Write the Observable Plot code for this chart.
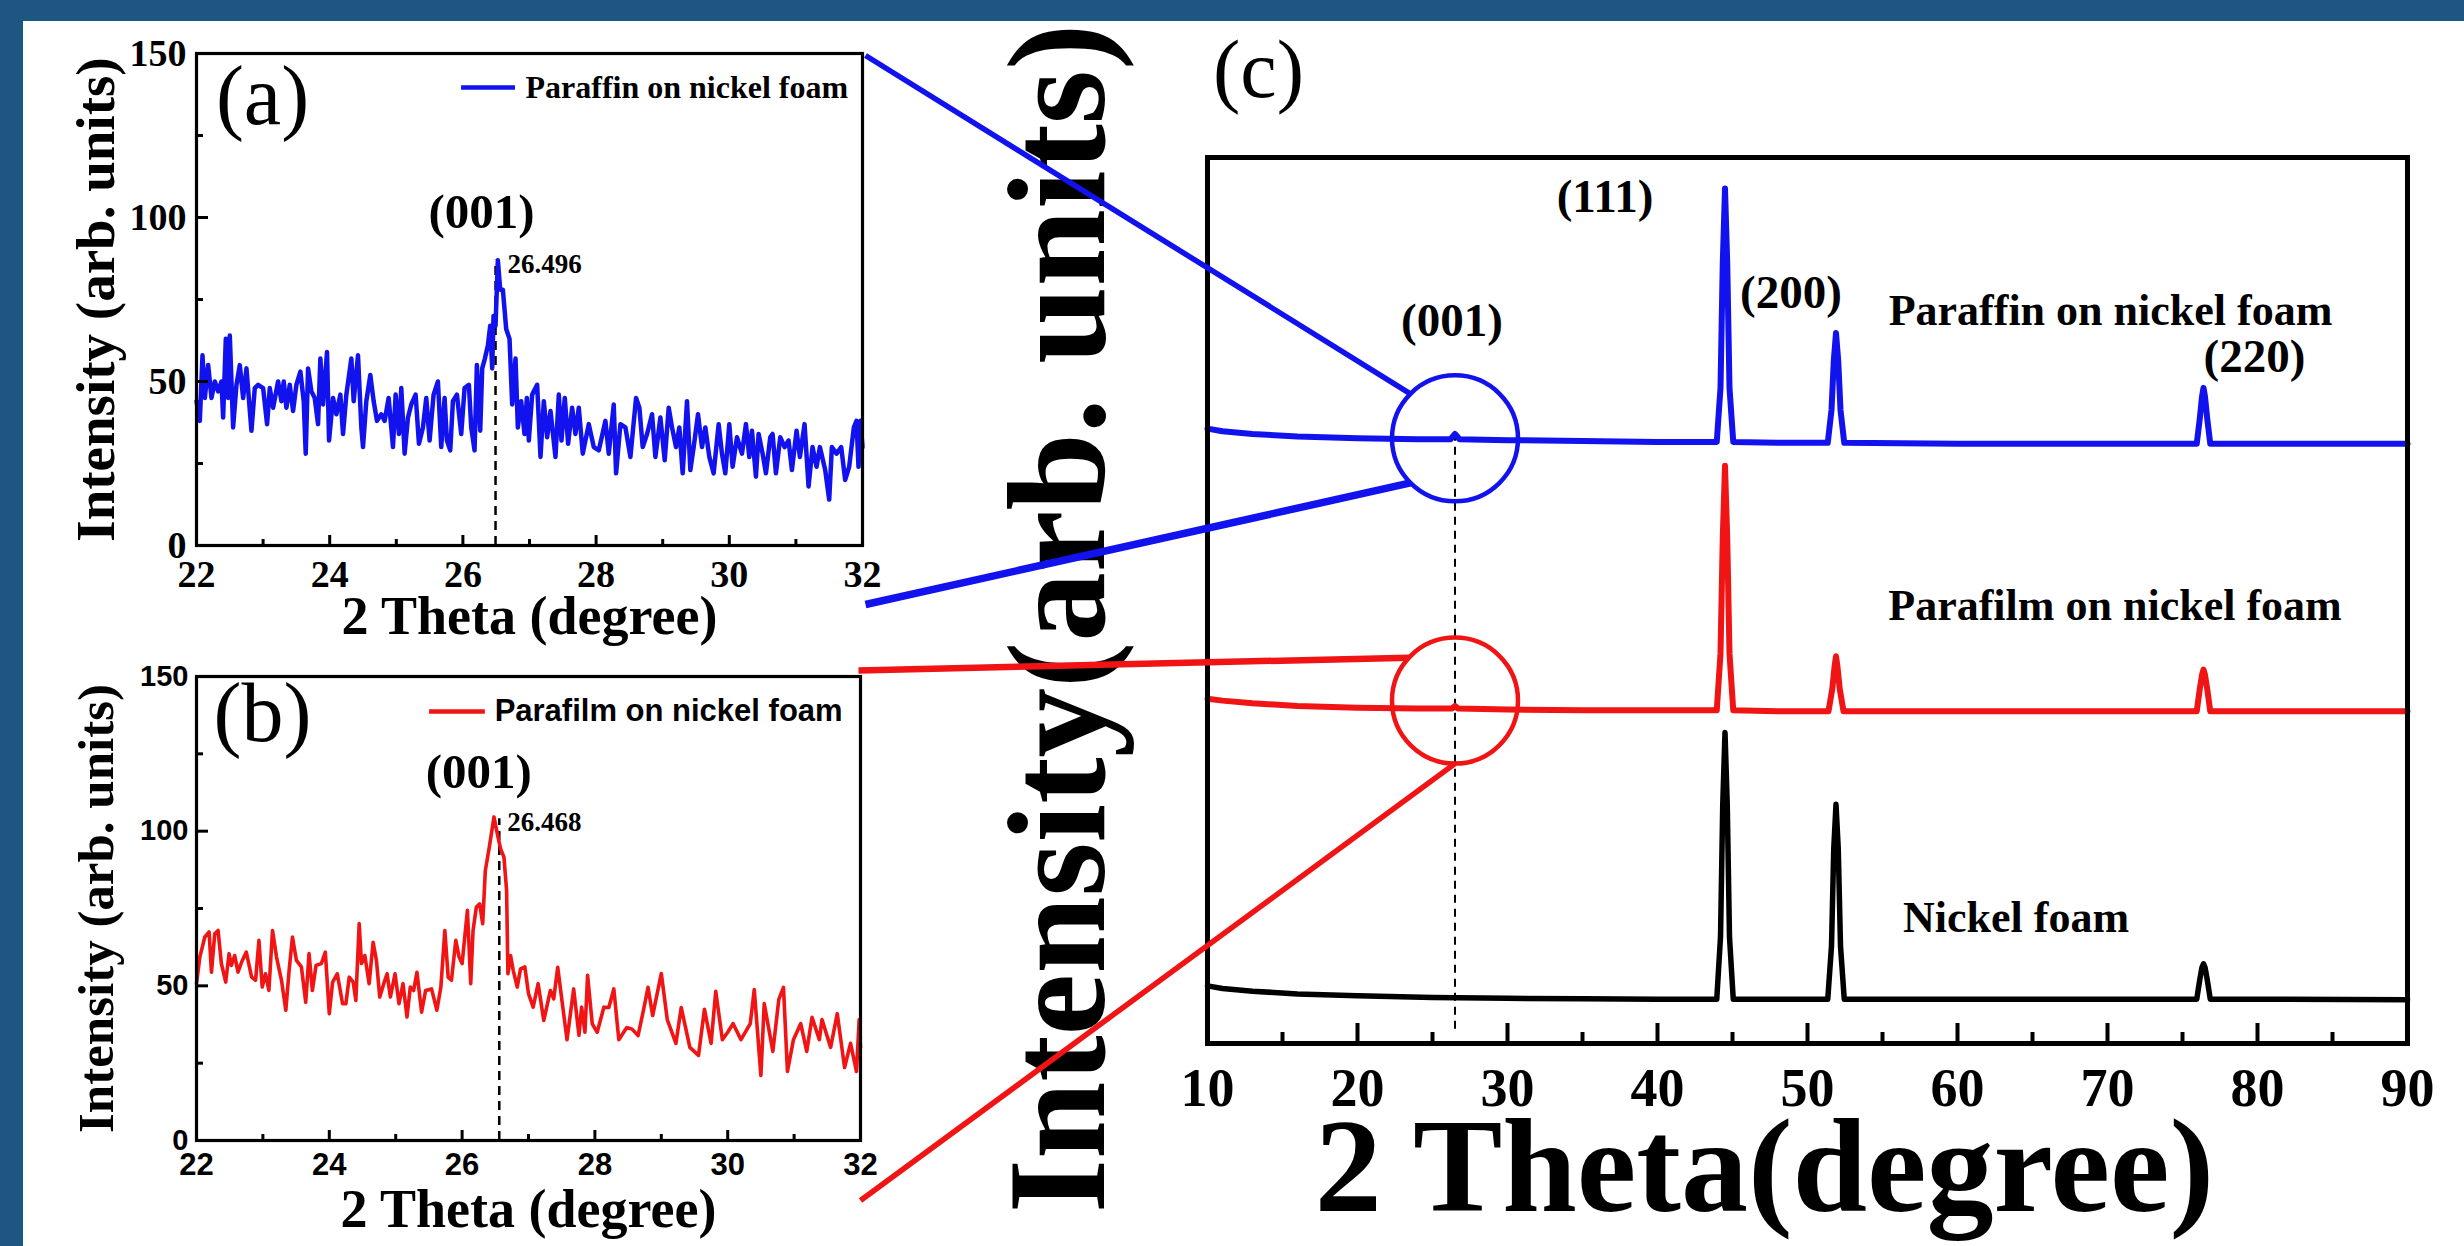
<!DOCTYPE html>
<html><head><meta charset="utf-8">
<script src="https://cdn.jsdelivr.net/npm/d3@7"></script>
<script src="https://cdn.jsdelivr.net/npm/@observablehq/plot@0.6"></script>
<style>
html,body{margin:0;padding:0;background:#fff;}
#page{position:relative;width:2464px;height:1246px;background:#fff;overflow:hidden;}
.band-top{position:absolute;left:0;top:0;width:2464px;height:21px;background:#1e5682;}
.band-left{position:absolute;left:0;top:0;width:23px;height:1246px;background:#1e5682;}
.panel{position:absolute;}
</style></head>
<body><div id="page"><div class="band-top"></div><div class="band-left"></div></div>
<script>
// ---------------- DATA ----------------
// (a) zoom: paraffin on nickel foam, 2θ (deg) vs intensity (arb. units)
const paraffinZoom = [[22.00,44],[22.05,38],[22.09,58],[22.125,45],[22.175,55],[22.225,45],[22.275,50],[22.325,47],[22.375,50],[22.40,39],[22.44,63],[22.475,45],[22.50,64],[22.55,36],[22.60,49],[22.65,55],[22.70,45],[22.75,54],[22.825,35],[22.875,48],[22.925,49],[23.00,48],[23.06,37],[23.10,48],[23.15,42],[23.225,50],[23.275,44],[23.31,50],[23.35,42],[23.40,49],[23.45,41],[23.50,49],[23.56,53],[23.61,44],[23.64,28],[23.675,54],[23.725,47],[23.775,45],[23.825,37],[23.86,57],[23.90,43],[23.96,59],[23.99,32],[24.05,45],[24.10,40],[24.16,46],[24.20,34],[24.25,46],[24.325,57],[24.36,44],[24.425,58],[24.475,36],[24.50,30],[24.55,44],[24.61,52],[24.66,44],[24.71,38],[24.775,40],[24.825,38],[24.885,45],[24.95,30],[24.99,46],[25.04,34],[25.075,48],[25.125,28],[25.175,39],[25.225,43],[25.29,46],[25.34,31],[25.40,36],[25.45,45],[25.50,32],[25.56,46],[25.625,50],[25.675,30],[25.725,45],[25.76,32],[25.81,29],[25.85,44],[25.91,46],[25.975,34],[26.025,48],[26.09,49],[26.125,36],[26.175,29],[26.21,55],[26.26,35],[26.29,54],[26.33,57],[26.375,61],[26.41,67],[26.44,54],[26.46,70],[26.49,67],[26.525,87],[26.56,78],[26.60,78],[26.65,66],[26.70,63],[26.74,43],[26.79,57],[26.825,36],[26.875,44],[26.925,34],[26.96,45],[26.99,32],[27.04,46],[27.115,49],[27.165,27],[27.215,44],[27.265,33],[27.315,41],[27.39,27],[27.44,46],[27.48,32],[27.53,45],[27.58,31],[27.64,42],[27.69,34],[27.74,42],[27.80,28],[27.89,37],[27.965,30],[28.04,29],[28.14,38],[28.19,28],[28.265,43],[28.30,22],[28.365,37],[28.44,36],[28.515,27],[28.60,45],[28.65,42],[28.70,30],[28.765,34],[28.84,40],[28.89,27],[28.965,39],[29.03,26],[29.09,42],[29.14,36],[29.20,30],[29.25,36],[29.30,22],[29.365,44],[29.415,23],[29.465,30],[29.53,40],[29.59,30],[29.64,36],[29.70,27],[29.765,22],[29.84,37],[29.89,28],[29.94,22],[30.00,37],[30.05,24],[30.115,33],[30.19,28],[30.25,37],[30.30,27],[30.34,35],[30.40,21],[30.44,34],[30.50,28],[30.55,22],[30.615,33],[30.65,34],[30.70,22],[30.765,33],[30.83,30],[30.89,32],[30.94,23],[31.01,35],[31.06,27],[31.13,37],[31.19,18],[31.25,30],[31.31,24],[31.36,30],[31.44,23],[31.50,14],[31.54,30],[31.61,28],[31.68,30],[31.74,20],[31.80,24],[31.87,36],[31.91,38],[31.94,24],[31.97,38],[32.00,30]];

// (b) zoom: parafilm on nickel foam
const parafilmZoom = [[22.0,50.7],[22.05,59.3],[22.125,65.8],[22.19,67.4],[22.225,54.4],[22.275,66.8],[22.325,67.9],[22.375,57.2],[22.44,51.2],[22.49,60.4],[22.525,56.6],[22.575,59.8],[22.625,54.4],[22.68,57.7],[22.75,60.9],[22.83,52.8],[22.89,51.8],[22.94,64.7],[22.99,49.6],[23.04,53.9],[23.09,48.5],[23.145,67.9],[23.205,59.3],[23.28,51.8],[23.345,42.1],[23.395,55.0],[23.445,65.8],[23.505,58.2],[23.58,56.1],[23.645,44.7],[23.695,60.4],[23.745,48.5],[23.80,56.6],[23.88,57.2],[23.94,60.9],[24.0,41.0],[24.05,51.2],[24.12,53.9],[24.2,44.2],[24.25,44.2],[24.3,52.8],[24.36,51.2],[24.4,45.3],[24.45,70.1],[24.485,57.2],[24.535,59.8],[24.6,50.7],[24.66,64.1],[24.71,58.2],[24.76,46.4],[24.82,50.7],[24.87,53.9],[24.92,46.4],[24.99,53.9],[25.05,44.2],[25.11,50.7],[25.17,39.9],[25.22,49.6],[25.27,48.5],[25.32,54.4],[25.39,41.5],[25.45,48.5],[25.54,49.0],[25.62,42.1],[25.68,49.6],[25.74,67.9],[25.79,52.8],[25.84,51.8],[25.905,64.7],[25.955,59.3],[26.0,57.2],[26.04,65.8],[26.08,74.4],[26.13,50.7],[26.165,67.9],[26.215,75.5],[26.265,76.5],[26.31,70.1],[26.35,87.3],[26.41,94.9],[26.48,104.6],[26.53,99.2],[26.58,94.3],[26.63,91.6],[26.67,80.9],[26.69,53.9],[26.73,59.8],[26.77,55.0],[26.83,49.6],[26.88,55.5],[26.945,56.1],[27.0,47.5],[27.07,43.1],[27.145,50.7],[27.23,38.8],[27.33,48.5],[27.38,45.8],[27.44,56.0],[27.51,44.2],[27.58,32.6],[27.68,49.0],[27.76,34.0],[27.8,43.1],[27.85,35.0],[27.89,53.4],[27.96,37.7],[28.035,35.0],[28.135,43.1],[28.21,43.0],[28.285,49.0],[28.36,32.6],[28.48,36.5],[28.56,36.0],[28.65,33.9],[28.73,42.0],[28.8,49.5],[28.87,40.4],[29.0,54.0],[29.09,39.1],[29.22,31.4],[29.3,43.0],[29.43,30.1],[29.56,27.5],[29.65,42.4],[29.75,31.4],[29.82,48.2],[29.92,32.6],[30.0,35.0],[30.08,37.8],[30.2,32.6],[30.34,37.8],[30.4,48.8],[30.5,21.0],[30.55,44.3],[30.68,28.8],[30.77,45.6],[30.84,49.5],[30.9,22.3],[30.99,32.6],[31.1,37.8],[31.19,28.8],[31.27,39.8],[31.38,32.6],[31.42,39.1],[31.55,30.1],[31.65,41.0],[31.76,23.6],[31.85,31.4],[31.94,22.3],[31.98,39.1],[32.0,30.0]];

// (c) full patterns, stacked (arb. units incl. offsets)
const paraffinFull = [[10,694],[11,691],[13,688],[16,685],[20,683],[24,682],[26.2,682],[26.4,686],[26.5,688],[26.6,686],[26.8,682],[30,681],[35,680],[40,679],[43.95,679],[44.2,740],[44.35,880],[44.5,965],[44.65,880],[44.8,740],[45.05,679],[48,678],[51.35,678],[51.6,715],[51.75,770],[51.9,802],[52.05,770],[52.2,715],[52.45,678],[60,677],[70,677],[75.95,677],[76.15,705],[76.3,730],[76.4,740],[76.5,730],[76.65,705],[76.85,677],[85,677],[90,677]];
const parafilmFull = [[10,389],[11,387],[13,384],[16,381],[20,379],[24,378],[26.3,378],[26.5,381],[26.7,378],[30,377],[35,376],[40,376],[43.95,376],[44.2,440],[44.35,570],[44.5,652],[44.65,570],[44.8,440],[45.05,376],[48,375],[51.4,375],[51.65,400],[51.8,425],[51.9,437],[52.0,425],[52.15,400],[52.4,375],[60,375],[70,375],[75.95,375],[76.15,400],[76.3,416],[76.4,422],[76.5,416],[76.65,400],[76.85,375],[90,375]];
const nickelFull = [[10,65],[11,62],[13,59],[16,56],[20,54],[25,52],[30,51],[35,50.5],[40,50],[43.95,50],[44.2,120],[44.35,270],[44.5,351],[44.65,270],[44.8,120],[45.05,50],[48,50],[51.35,50],[51.6,110],[51.75,220],[51.9,270],[52.05,220],[52.2,110],[52.45,50],[60,50],[70,50],[75.95,50],[76.15,72],[76.3,86],[76.4,90],[76.5,86],[76.65,72],[76.85,50],[90,49.5]];

// tick values
const insetMajorX = [22,24,26,28,30,32];
const insetMinorX = [23,25,27,29,31];
const insetMajorY = [0,50,100,150];
const insetMinorY = [25,75,125];
const fullMajorX = [10,20,30,40,50,60,70,80,90];
const fullMinorX = [15,25,35,45,55,65,75,85];

// annotations
const peakA = {theta: 26.49, top: 87, label: "26.496"};
const peakB = {theta: 26.56, top: 104, label: "26.468"};
const hklLabels = ["(111)","(200)","(001)","(220)"];
const hklTheta  = [36.5, 48.9, 26.3, 79.8];
const hklLevel  = [956, 847, 816, 775];
const sampleNames = ["Paraffin on nickel foam","Parafilm on nickel foam","Nickel foam"];
const sampleTheta = [70.2, 70.5, 63.9];
const sampleLevel = [827, 494, 142];
const zoomTheta = 26.5;
const circleLevels = [683, 387];   // paraffin, parafilm

// ---------------- STYLE ----------------
const SERIF = "'Liberation Serif','Times New Roman',serif";
const SANS = "'Liberation Sans',Arial,sans-serif";
const BLUE = "#1212ee", RED = "#f01414", BLACK = "#000";
const svgStyle = "background:transparent;overflow:visible;max-width:none;";
const page = document.getElementById("page");
function place(el, left, top) {
  const d = document.createElement("div");
  d.className = "panel"; d.style.left = left + "px"; d.style.top = top + "px";
  d.appendChild(el); page.appendChild(d);
}
const pts = arr => arr.map(([t, v]) => ({t, v}));

function insetTicks(xd, yd, iw, ih, sw) {
  const ux = (xd[1]-xd[0])/iw, uy = (yd[1]-yd[0])/ih;
  return [
    Plot.ruleX(insetMajorX, {y1: yd[0], y2: yd[0] + 10*uy, stroke: BLACK, strokeWidth: sw}),
    Plot.ruleX(insetMinorX, {y1: yd[0], y2: yd[0] + 6*uy, stroke: BLACK, strokeWidth: sw}),
    Plot.ruleY(insetMajorY, {x1: xd[0], x2: xd[0] + 12*ux, stroke: BLACK, strokeWidth: sw}),
    Plot.ruleY(insetMinorY, {x1: xd[0], x2: xd[0] + 7*ux, stroke: BLACK, strokeWidth: sw})
  ];
}

// ---------------- PANEL (a) ----------------
const LA = {left: 0, top: 0, width: 960, height: 660, mL: 196, mR: 98, mT: 53, mB: 115};
const plotA = Plot.plot({
  width: LA.width, height: LA.height,
  marginLeft: LA.mL, marginRight: LA.mR, marginTop: LA.mT, marginBottom: LA.mB,
  style: svgStyle,
  x: {domain: [22, 32]}, y: {domain: [0, 150]},
  marks: [
    Plot.ruleX([peakA], {x: "theta", y1: 0, y2: "top", stroke: BLACK, strokeWidth: 2.5, strokeDasharray: "9,6"}),
    Plot.line(pts(paraffinZoom), {x: "t", y: "v", stroke: BLUE, strokeWidth: 4.5, strokeLinejoin: "round"}),
    Plot.frame({stroke: BLACK, strokeWidth: 3.2}),
    ...insetTicks([22,32],[0,150], LA.width-LA.mL-LA.mR, LA.height-LA.mT-LA.mB, 3),
    Plot.axisX({ticks: insetMajorX, tickSize: 0, tickPadding: 15, label: null, fontSize: 38, fontWeight: "bold", fontFamily: SERIF, fill: BLACK}),
    Plot.axisY({ticks: insetMajorY, tickSize: 0, tickPadding: 10, label: null, fontSize: 38, fontWeight: "bold", fontFamily: SERIF, fill: BLACK}),
    Plot.text(["2 Theta (degree)"], {text: d => d, frameAnchor: "bottom", dy: 88, textAnchor: "middle", lineAnchor: "bottom", fontSize: 54, fontWeight: "bold", fontFamily: SERIF, fill: BLACK}),
    Plot.text(["Intensity (arb. units)"], {text: d => d, frameAnchor: "left", rotate: -90, dx: -100, textAnchor: "middle", lineAnchor: "middle", fontSize: 55, fontWeight: "bold", fontFamily: SERIF, fill: BLACK}),
    Plot.text(["(a)"], {text: d => d, frameAnchor: "top-left", dx: 66, dy: 44, textAnchor: "middle", lineAnchor: "middle", fontSize: 84, fontFamily: SERIF, fill: BLACK}),
    Plot.text(["(001)"], {text: d => d, x: 26.28, y: 101.5, fontSize: 49, fontWeight: "bold", fontFamily: SERIF, fill: BLACK}),
    Plot.text([peakA], {text: "label", x: "theta", y: "top", dx: 12, dy: 4, textAnchor: "start", fontSize: 27, fontWeight: "bold", fontFamily: SERIF, fill: BLACK}),
    Plot.ruleY([139.6], {x1: 25.98, x2: 26.79, stroke: BLUE, strokeWidth: 4.5}),
    Plot.text(["Paraffin on nickel foam"], {text: d => d, x: 26.94, y: 139.6, textAnchor: "start", fontSize: 32, fontWeight: "bold", fontFamily: SERIF, fill: BLACK})
  ]
});
place(plotA, LA.left, LA.top);

// ---------------- PANEL (b) ----------------
const LB = {left: 0, top: 620, width: 960, height: 626, mL: 196, mR: 100, mT: 56, mB: 106};
const plotB = Plot.plot({
  width: LB.width, height: LB.height,
  marginLeft: LB.mL, marginRight: LB.mR, marginTop: LB.mT, marginBottom: LB.mB,
  style: svgStyle,
  x: {domain: [22, 32]}, y: {domain: [0, 150]},
  marks: [
    Plot.ruleX([peakB], {x: "theta", y1: 0, y2: "top", stroke: BLACK, strokeWidth: 2.5, strokeDasharray: "9,6"}),
    Plot.line(pts(parafilmZoom), {x: "t", y: "v", stroke: RED, strokeWidth: 3.6, strokeLinejoin: "round"}),
    Plot.frame({stroke: BLACK, strokeWidth: 3.2}),
    ...insetTicks([22,32],[0,150], LB.width-LB.mL-LB.mR, LB.height-LB.mT-LB.mB, 3),
    Plot.axisX({ticks: insetMajorX, tickSize: 0, tickPadding: 12, label: null, fontSize: 31, fontWeight: "bold", fontFamily: SANS, fill: BLACK}),
    Plot.axisY({ticks: insetMajorY, tickSize: 0, tickPadding: 8, label: null, fontSize: 29, fontWeight: "bold", fontFamily: SANS, fill: BLACK}),
    Plot.text(["2 Theta (degree)"], {text: d => d, frameAnchor: "bottom", dy: 86, textAnchor: "middle", lineAnchor: "bottom", fontSize: 54, fontWeight: "bold", fontFamily: SERIF, fill: BLACK}),
    Plot.text(["Intensity (arb. units)"], {text: d => d, frameAnchor: "left", rotate: -90, dx: -100, textAnchor: "middle", lineAnchor: "middle", fontSize: 51, fontWeight: "bold", fontFamily: SERIF, fill: BLACK}),
    Plot.text(["(b)"], {text: d => d, frameAnchor: "top-left", dx: 66, dy: 38, textAnchor: "middle", lineAnchor: "middle", fontSize: 84, fontFamily: SERIF, fill: BLACK}),
    Plot.text(["(001)"], {text: d => d, x: 26.25, y: 119, fontSize: 49, fontWeight: "bold", fontFamily: SERIF, fill: BLACK}),
    Plot.text([peakB], {text: "label", x: "theta", y: "top", dx: 8, dy: 4, textAnchor: "start", fontSize: 27, fontWeight: "bold", fontFamily: SERIF, fill: BLACK}),
    Plot.ruleY([138.7], {x1: 25.51, x2: 26.35, stroke: RED, strokeWidth: 4.5}),
    Plot.text(["Parafilm on nickel foam"], {text: d => d, x: 26.49, y: 138.7, textAnchor: "start", fontSize: 31, fontWeight: "bold", fontFamily: SANS, fill: BLACK})
  ]
});
place(plotB, LB.left, LB.top);

// ---------------- PANEL (c) ----------------
const LC = {left: 960, top: 0, width: 1504, height: 1246, mL: 247, mR: 57, mT: 157, mB: 203};
const ihC = LC.height - LC.mT - LC.mB;
const uyC = 1000 / ihC;
const circles = [{t: zoomTheta, v: circleLevels[0], c: BLUE}, {t: zoomTheta, v: circleLevels[1], c: RED}];
const plotC = Plot.plot({
  width: LC.width, height: LC.height,
  marginLeft: LC.mL, marginRight: LC.mR, marginTop: LC.mT, marginBottom: LC.mB,
  style: svgStyle,
  x: {domain: [10, 90]}, y: {domain: [0, 1000], axis: null},
  color: {type: "identity"},
  marks: [
    Plot.ruleX([zoomTheta], {y1: 16, y2: 686, stroke: BLACK, strokeWidth: 2, strokeDasharray: "8,6"}),
    Plot.line(pts(nickelFull), {x: "t", y: "v", stroke: BLACK, strokeWidth: 5.5, strokeLinejoin: "round"}),
    Plot.line(pts(parafilmFull), {x: "t", y: "v", stroke: RED, strokeWidth: 6, strokeLinejoin: "round"}),
    Plot.line(pts(paraffinFull), {x: "t", y: "v", stroke: BLUE, strokeWidth: 6, strokeLinejoin: "round"}),
    Plot.dot(circles, {x: "t", y: "v", r: 63, stroke: "c", strokeWidth: 4.5, fill: "none"}),
    Plot.frame({stroke: BLACK, strokeWidth: 5}),
    Plot.ruleX(fullMajorX, {y1: 0, y2: 20*uyC, stroke: BLACK, strokeWidth: 4}),
    Plot.ruleX(fullMinorX, {y1: 0, y2: 11*uyC, stroke: BLACK, strokeWidth: 4}),
    Plot.axisX({ticks: fullMajorX, tickSize: 0, tickPadding: 24, label: null, fontSize: 54, fontWeight: "bold", fontFamily: SERIF, fill: BLACK}),
    Plot.text(hklLabels, {text: d => d, x: (d, i) => hklTheta[i], y: (d, i) => hklLevel[i], fontSize: 47, fontWeight: "bold", fontFamily: SERIF, fill: BLACK}),
    Plot.text(sampleNames, {text: d => d, x: (d, i) => sampleTheta[i], y: (d, i) => sampleLevel[i], fontSize: 44, fontWeight: "bold", fontFamily: SERIF, fill: BLACK}),
    Plot.text(["(c)"], {text: d => d, frameAnchor: "top-left", dx: 51, dy: -87, textAnchor: "middle", lineAnchor: "middle", fontSize: 82, fontFamily: SERIF, fill: BLACK}),
    Plot.text(["2 Theta(degree)"], {text: d => d, frameAnchor: "bottom", dx: -43, dy: 167, textAnchor: "middle", lineAnchor: "bottom", fontSize: 134, fontWeight: "bold", fontFamily: SERIF, fill: BLACK}),
    Plot.text(["Intensity(arb. units)"], {text: d => d, frameAnchor: "left", rotate: -90, dx: -104, dy: 18, textAnchor: "middle", lineAnchor: "bottom", fontSize: 139, fontWeight: "bold", fontFamily: SERIF, fill: BLACK})
  ]
});
place(plotC, LC.left, LC.top);

// ---------------- CONNECTORS (overlay, pixel identity scales) ----------------
const ax = plotA.scale("x"), ay = plotA.scale("y");
const bx = plotB.scale("x"), by = plotB.scale("y");
const cx = plotC.scale("x"), cy = plotC.scale("y");
const R = 63;
const cBlue = {x: LC.left + cx.apply(zoomTheta), y: LC.top + cy.apply(circleLevels[0])};
const cRed = {x: LC.left + cx.apply(zoomTheta), y: LC.top + cy.apply(circleLevels[1])};
const onCircle = (c, deg) => ({x: c.x + R*Math.cos(deg*Math.PI/180), y: c.y + R*Math.sin(deg*Math.PI/180)});
const aRight = LA.left + ax.apply(32), bRight = LB.left + bx.apply(32);
const ends = [
  {from: {x: aRight + 3, y: LA.top + ay.apply(150) + 2}, to: onCircle(cBlue, 225), c: BLUE, w: 5.5},
  {from: {x: aRight + 3, y: LA.top + ay.apply(0) + 59}, to: onCircle(cBlue, 135), c: BLUE, w: 7.5},
  {from: {x: bRight - 2, y: LB.top + by.apply(150) - 6}, to: onCircle(cRed, 223), c: RED, w: 6.5},
  {from: {x: bRight, y: LB.top + by.apply(0) + 60}, to: onCircle(cRed, 90), c: RED, w: 5.5}
];
const connectors = ends.map(e => ({x1: e.from.x, y1: e.from.y, x2: e.to.x, y2: e.to.y, c: e.c, w: e.w}));
const overlay = Plot.plot({
  width: 2464, height: 1246, margin: 0, style: svgStyle,
  x: {type: "identity", axis: null}, y: {type: "identity", axis: null}, color: {type: "identity"},
  marks: [Plot.link(connectors, {x1: "x1", y1: "y1", x2: "x2", y2: "y2", stroke: "c", strokeWidth: "w"})]
});
place(overlay, 0, 0);
</script>
</body></html>
